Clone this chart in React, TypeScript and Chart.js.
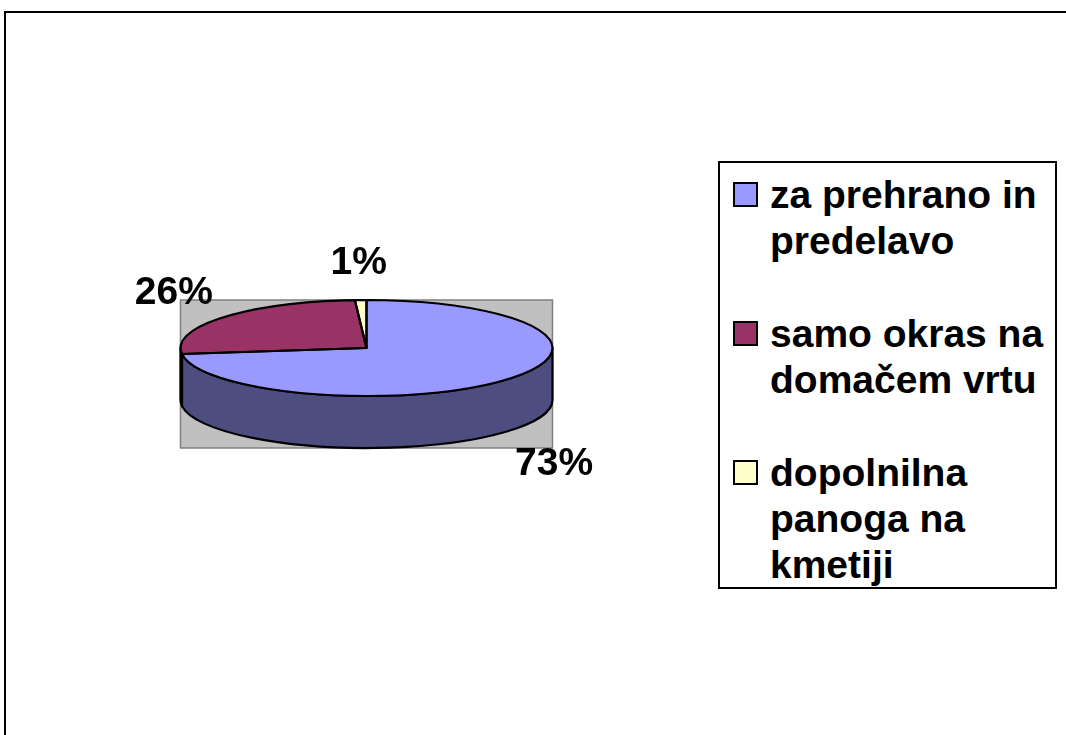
import React, { useEffect, useRef } from 'react';
import { Chart, registerables } from 'chart.js';

Chart.register(...registerables);

const categories = ['za prehrano in predelavo', 'samo okras na domačem vrtu', 'dopolnilna panoga na kmetiji'];
const shares = [73, 26, 1];
const topColors = ['#9999FF', '#993366', '#FFFFCC'];
const sideColors = ['#4D4D80', '#4D1A33', '#808066'];

const TILT = 48 / 186;
const DEPTH = 52;
const FONT = 'bold 39px "Liberation Sans", Arial, sans-serif';

const pie3d = {
  id: 'pie3d',
  beforeDatasetsDraw(chart: any) {
    const ctx = chart.ctx as CanvasRenderingContext2D;
    const meta = chart.getDatasetMeta(0);
    const a0 = meta.data[0] as any;
    const cx = a0.x, cy = a0.y, R = a0.outerRadius;
    const r = R * TILT;
    ctx.save();
    ctx.fillStyle = '#C0C0C0';
    ctx.fillRect(cx - R, cy - r, 2 * R, 2 * r + DEPTH);
    ctx.strokeStyle = '#808080';
    ctx.lineWidth = 1.5;
    ctx.strokeRect(cx - R, cy - r, 2 * R, 2 * r + DEPTH);
    meta.data.forEach((el: any, i: number) => {
      const a = Math.max(el.startAngle, 0);
      const b = Math.min(el.endAngle, Math.PI);
      if (a < b) {
        ctx.beginPath();
        ctx.ellipse(cx, cy, R, r, 0, a, b, false);
        ctx.ellipse(cx, cy + DEPTH, R, r, 0, b, a, true);
        ctx.closePath();
        ctx.fillStyle = sideColors[i];
        ctx.fill();
        ctx.strokeStyle = '#000';
        ctx.lineWidth = 2.2;
        ctx.lineJoin = 'round';
        ctx.stroke();
      }
    });
    ctx.translate(cx, cy);
    ctx.scale(1, TILT);
    ctx.translate(-cx, -cy);
  },
  afterDatasetsDraw(chart: any) {
    const ctx = chart.ctx as CanvasRenderingContext2D;
    ctx.restore();
    const meta = chart.getDatasetMeta(0);
    const a0 = meta.data[0] as any;
    const cx = a0.x, cy = a0.y, R = a0.outerRadius;
    const r = R * TILT;
    ctx.save();
    ctx.strokeStyle = '#000';
    ctx.lineWidth = 2.2;
    ctx.lineJoin = 'round';
    meta.data.forEach((el: any) => {
      ctx.beginPath();
      ctx.moveTo(cx, cy);
      ctx.ellipse(cx, cy, R, r, 0, el.startAngle, el.endAngle, false);
      ctx.closePath();
      ctx.stroke();
    });
    const data = chart.data.datasets[0].data as number[];
    const total = data.reduce((s, v) => s + v, 0);
    ctx.fillStyle = '#000';
    ctx.font = FONT;
    ctx.textAlign = 'center';
    ctx.textBaseline = 'middle';
    meta.data.forEach((el: any, i: number) => {
      const mid = (el.startAngle + el.endAngle) / 2;
      const c = Math.cos(mid), s = Math.sin(mid);
      const x = cx + (R + 64) * c;
      const y = s > 0 ? cy + (r + 38) * s + DEPTH + 7 : cy + (r + 35) * s - 2;
      ctx.fillText(Math.round((data[i] / total) * 100) + '%', x, y);
    });
    ctx.restore();
  },
};

export default function App() {
  const canvasRef = useRef<HTMLCanvasElement | null>(null);

  useEffect(() => {
    const canvas = canvasRef.current;
    if (!canvas) return;
    const chart = new Chart(canvas, {
      type: 'pie',
      data: {
        labels: categories,
        datasets: [
          {
            data: shares,
            backgroundColor: topColors,
            borderWidth: 0,
            clip: false as any,
          },
        ],
      },
      options: {
        responsive: false,
        animation: false,
        devicePixelRatio: 1,
        layout: { padding: { left: 180, right: 513, top: 162, bottom: 201 } },
        plugins: {
          legend: { display: false },
          tooltip: { enabled: false },
        },
        events: [],
      },
      plugins: [pie3d],
    });
    return () => chart.destroy();
  }, []);

  const legendFont = '"Liberation Sans", Arial, sans-serif';

  return (
    <div
      style={{
        position: 'fixed',
        left: 0,
        top: 0,
        width: 1066,
        height: 735,
        overflow: 'hidden',
        background: '#fff',
      }}
    >
      <div
        style={{
          position: 'absolute',
          left: 4,
          top: 11,
          width: 1200,
          height: 900,
          border: '2px solid #000',
          boxSizing: 'border-box',
        }}
      />
      <canvas ref={canvasRef} width={1066} height={735} style={{ position: 'absolute', left: 0, top: 0 }} />
      <div
        style={{
          position: 'absolute',
          left: 718,
          top: 161,
          width: 339,
          height: 428,
          border: '2px solid #000',
          boxSizing: 'border-box',
          background: '#fff',
          fontFamily: legendFont,
          fontWeight: 'bold',
          fontSize: 39,
          lineHeight: '46.3px',
          paddingTop: 9,
        }}
      >
        {categories.map((c, i) => (
          <div key={c} style={{ position: 'relative', paddingLeft: 50, width: 284, marginBottom: i < categories.length - 1 ? 46.3 : 0 }}>
            <span
              style={{
                position: 'absolute',
                left: 13,
                top: 10,
                width: 25,
                height: 25,
                boxSizing: 'border-box',
                border: '2px solid #000',
                background: topColors[i],
              }}
            />
            {c}
          </div>
        ))}
      </div>
    </div>
  );
}
